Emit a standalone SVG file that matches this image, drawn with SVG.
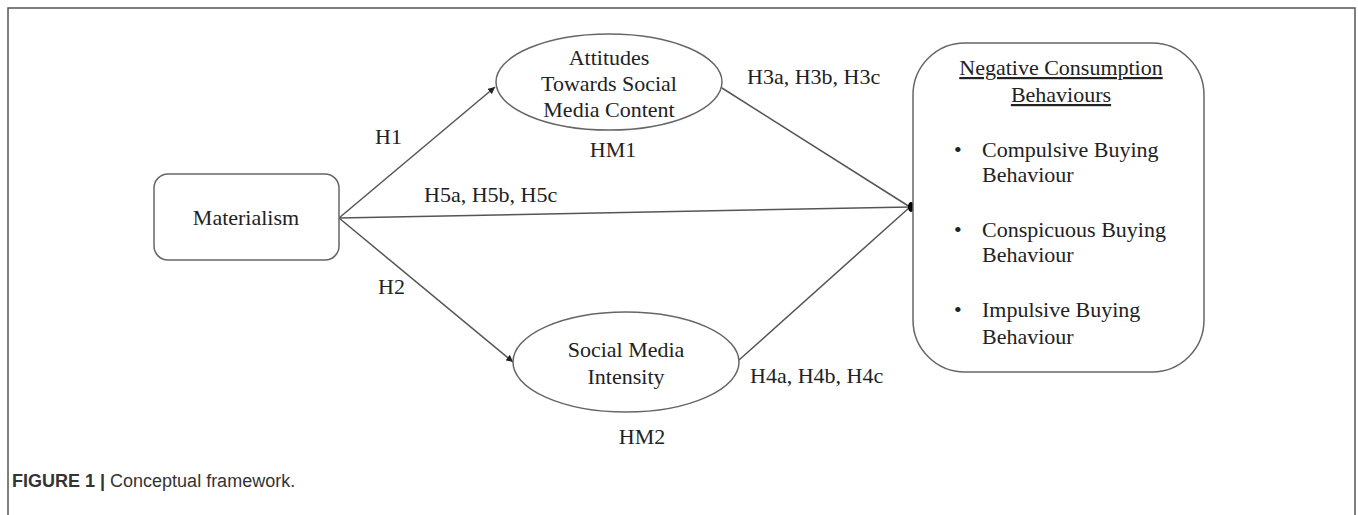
<svg xmlns="http://www.w3.org/2000/svg" width="1358" height="515" viewBox="0 0 1358 515">
<defs>
<marker id="arr" viewBox="0 0 10 10" refX="10" refY="5" markerWidth="7" markerHeight="7" markerUnits="userSpaceOnUse" orient="auto">
<path d="M0,0 L10,5 L0,10 z" fill="#222"/>
</marker>
<style>
.t{font-family:"Liberation Serif","Times New Roman",serif;font-size:22px;fill:#222}
.c{text-anchor:middle}
.shape{fill:#fff;stroke:#666;stroke-width:1.5}
.ln{stroke:#555;stroke-width:1.5;fill:none}
.cap{font-family:"Liberation Sans",Arial,sans-serif;font-size:18px;fill:#333}
</style>
</defs>
<rect width="1358" height="515" fill="#fff"/>
<rect x="8" y="8" width="1347" height="520" fill="none" stroke="#555" stroke-width="1.5"/>

<g id="connectors">
<line class="ln" x1="339" y1="218" x2="495" y2="87" marker-end="url(#arr)"/>
<line class="ln" x1="339" y1="218" x2="513" y2="362" marker-end="url(#arr)"/>
<line class="ln" x1="339" y1="218" x2="910" y2="207"/>
<line class="ln" x1="722" y1="88" x2="910" y2="207"/>
<line class="ln" x1="739" y1="360" x2="910" y2="207"/>
<ellipse cx="911" cy="207" rx="3" ry="5" fill="#000"/>
<text class="t" x="375" y="144">H1</text>
<text class="t c" x="613" y="157">HM1</text>
<text class="t" x="424" y="202">H5a, H5b, H5c</text>
<text class="t" x="747" y="84">H3a, H3b, H3c</text>
<text class="t" x="378" y="294">H2</text>
<text class="t" x="750" y="383">H4a, H4b, H4c</text>
<text class="t c" x="642" y="444">HM2</text>
</g>

<g id="materialism">
<rect class="shape" x="154" y="174" width="185" height="86" rx="14"/>
<text class="t c" x="246" y="225">Materialism</text>
</g>

<g id="attitudes">
<ellipse class="shape" cx="609" cy="82" rx="113" ry="48"/>
<text class="t c" x="609" y="65">Attitudes</text>
<text class="t c" x="609" y="91">Towards Social</text>
<text class="t c" x="609" y="117">Media Content</text>
</g>

<g id="intensity">
<ellipse class="shape" cx="626" cy="362" rx="113" ry="50"/>
<text class="t c" x="626" y="357">Social Media</text>
<text class="t c" x="626" y="384">Intensity</text>
</g>

<g id="negative">
<rect class="shape" x="913" y="43" width="291" height="329" rx="52"/>
<text class="t c" x="1061" y="75" text-decoration="underline">Negative Consumption</text>
<text class="t c" x="1061" y="102" text-decoration="underline">Behaviours</text>
<text class="t" x="954" y="157">•</text>
<text class="t" x="982" y="157">Compulsive Buying</text>
<text class="t" x="982" y="182">Behaviour</text>
<text class="t" x="954" y="237">•</text>
<text class="t" x="982" y="237">Conspicuous Buying</text>
<text class="t" x="982" y="262">Behaviour</text>
<text class="t" x="954" y="317">•</text>
<text class="t" x="982" y="317">Impulsive Buying</text>
<text class="t" x="982" y="344">Behaviour</text>
</g>

<text class="cap" x="12" y="487"><tspan font-weight="bold">FIGURE 1 |</tspan> Conceptual framework.</text>
</svg>
